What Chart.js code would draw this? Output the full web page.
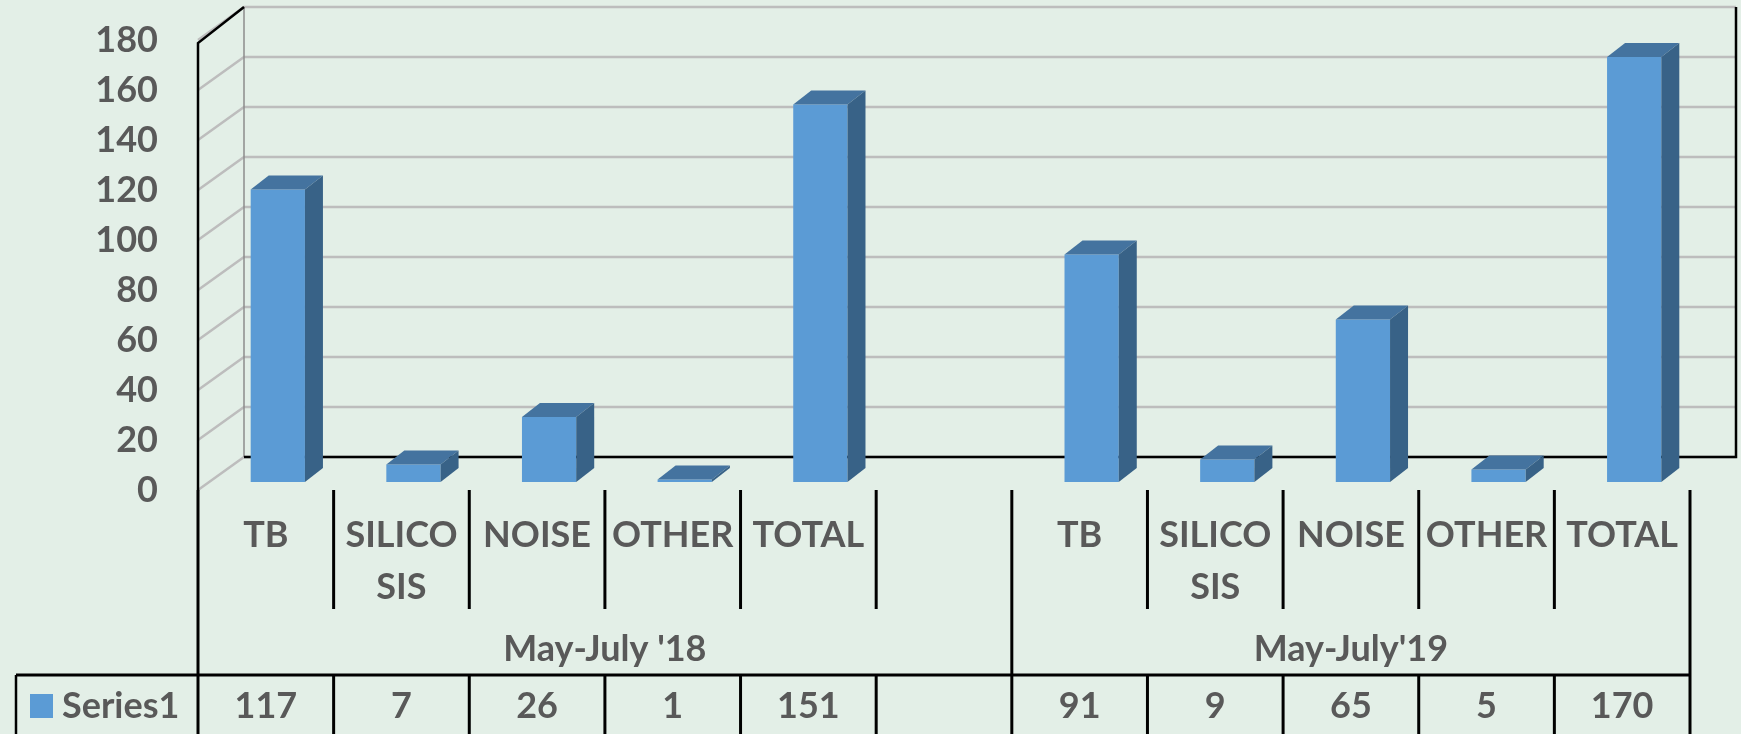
<html>
<head>
<meta charset="utf-8">
<title>Series1 3D columns</title>
<script src="https://cdn.jsdelivr.net/npm/chart.js@4.4.1/dist/chart.umd.min.js"></script>
<style>
	body { margin: 0; background: #E3EFE7; overflow: hidden; }
</style>
</head>
<body>

	<canvas id="canvas" width="1741" height="734"></canvas>

	<script>
		// data
		var categories = ['TB', ['SILICO', 'SIS'], 'NOISE', 'OTHER', 'TOTAL', '', 'TB', ['SILICO', 'SIS'], 'NOISE', 'OTHER', 'TOTAL'];
		var series1 = [117, 7, 26, 1, 151, null, 91, 9, 65, 5, 170];
		var seriesName = 'Series1';
		var groupLabels = ["May-July '18", "May-July'19"];
		var groupSizes = [6, 5];
		var yMin = 0, yMax = 180, yStep = 20;

		var bg = '#E3EFE7';
		var textColor = '#595959';
		var font = 'bold 36px Lato';

		// fake 3d geometry
		var depthX = 46, depthY = 33;
		var shiftX = 12, shiftY = 8;
		var sideX = 18, sideY = 14;

		function line(ctx, pts) {
			ctx.beginPath();
			ctx.moveTo(pts[0][0], pts[0][1]);
			for (var i = 1; i < pts.length; i++) ctx.lineTo(pts[i][0], pts[i][1]);
			ctx.stroke();
		}
		function poly(ctx, pts, color) {
			ctx.beginPath();
			ctx.moveTo(pts[0][0], pts[0][1]);
			for (var i = 1; i < pts.length; i++) ctx.lineTo(pts[i][0], pts[i][1]);
			ctx.closePath();
			ctx.fillStyle = color;
			ctx.fill();
		}

		var scene = {
			id: 'scene',
			beforeDraw: function (chart) {
				var ctx = chart.ctx;
				ctx.save();
				ctx.fillStyle = bg;
				ctx.fillRect(0, 0, chart.width, chart.height);
				ctx.restore();
			},
			beforeDatasetsDraw: function (chart) {
				var ctx = chart.ctx, a = chart.chartArea, ys = chart.scales.y;
				ctx.save();
				ctx.lineCap = 'butt';
				// walls gridlines
				for (var v = yMin; v <= yMax; v += yStep) {
					var py = ys.getPixelForValue(v);
					ctx.strokeStyle = '#BDBDBD';
					ctx.lineWidth = 2.5;
					line(ctx, [[a.left, py], [a.left + depthX, py - depthY], [a.right + depthX, py - depthY]]);
				}
				ctx.strokeStyle = '#8C8C8C';
				ctx.lineWidth = 1.5;
				line(ctx, [[a.left + depthX, a.top - depthY], [a.left + depthX, a.bottom - depthY]]);

				ctx.strokeStyle = '#000';
				ctx.lineWidth = 2.5;
				line(ctx, [[a.left, a.bottom], [a.left, a.top + 3], [a.left + depthX, a.top - depthY]]);
				line(ctx, [[a.left + depthX, a.bottom - depthY], [a.right + depthX, a.bottom - depthY], [a.right + depthX, a.top - depthY]]);
				ctx.restore();

				// bars sit a bit back on the floor
				ctx.save();
				ctx.translate(shiftX, -shiftY);
			},
			afterDatasetsDraw: function (chart) {
				var ctx = chart.ctx;
				var meta = chart.getDatasetMeta(0);
				meta.data.forEach(function (bar, i) {
					if (series1[i] == null) return;
					var l = bar.x - bar.width / 2, r = bar.x + bar.width / 2;
					poly(ctx, [[l, bar.y], [l + sideX, bar.y - sideY], [r + sideX, bar.y - sideY], [r, bar.y]], '#44739F');
					poly(ctx, [[r, bar.y], [r + sideX, bar.y - sideY], [r + sideX, bar.base - sideY], [r, bar.base]], '#386287');
				});
				ctx.restore();
			},
			afterDraw: function (chart) {
				var ctx = chart.ctx, a = chart.chartArea, xs = chart.scales.x;
				var half = (xs.getPixelForValue(1) - xs.getPixelForValue(0)) / 2;
				var top = a.bottom, labelBottom = a.bottom + 119, groupBottom = a.bottom + 185, end = chart.height;
				var i;

				ctx.save();
				ctx.strokeStyle = '#000';
				ctx.lineWidth = 3;
				var groupEdges = [0];
				var n = 0;
				for (i = 0; i < groupSizes.length; i++) { n += groupSizes[i]; groupEdges.push(n); }
				for (i = 0; i <= categories.length; i++) {
					var ex = xs.getPixelForValue(i) - half;
					if (groupEdges.indexOf(i) >= 0) {
						line(ctx, [[ex, top], [ex, end]]);
					} else {
						line(ctx, [[ex, top], [ex, labelBottom]]);
						line(ctx, [[ex, groupBottom], [ex, end]]);
					}
				}
				line(ctx, [[16, groupBottom], [xs.getPixelForValue(categories.length - 1) + half, groupBottom]]);
				ctx.lineWidth = 2.5;
				line(ctx, [[16, groupBottom], [16, end]]);

				ctx.font = font;
				ctx.fillStyle = textColor;
				ctx.textAlign = 'center';
				ctx.textBaseline = 'middle';
				// category labels
				categories.forEach(function (c, i) {
					var lines = Array.isArray(c) ? c : [c];
					lines.forEach(function (t, k) {
						ctx.fillText(t, xs.getPixelForValue(i), top + 45 + k * 52);
					});
				});
				// group labels
				var start = 0;
				groupLabels.forEach(function (g, k) {
					var x0 = xs.getPixelForValue(start) - half;
					var x1 = xs.getPixelForValue(start + groupSizes[k] - 1) + half;
					ctx.fillText(g, (x0 + x1) / 2, labelBottom + 40);
					start += groupSizes[k];
				});
				// data table row
				var rowY = groupBottom + 31;
				series1.forEach(function (v, i) {
					if (v == null) return;
					ctx.fillText(String(v), xs.getPixelForValue(i), rowY);
				});
				ctx.fillStyle = '#5B9BD5';
				ctx.fillRect(30, rowY - 12, 23, 24);
				ctx.fillStyle = textColor;
				ctx.textAlign = 'left';
				ctx.fillText(seriesName, 62, rowY);
				ctx.restore();
			}
		};

		var chart = new Chart(document.getElementById('canvas'), {
			type: 'bar',
			data: {
				labels: categories,
				datasets: [{
					label: seriesName,
					data: series1,
					backgroundColor: '#5B9BD5',
					borderWidth: 0,
					barPercentage: 0.5,
					categoryPercentage: 0.8
				}]
			},
			options: {
				responsive: false,
				animation: false,
				layout: { padding: { left: 0, top: 40, right: 51, bottom: 244 } },
				plugins: {
					legend: { display: false },
					tooltip: { enabled: false }
				},
				scales: {
					x: { display: false },
					y: {
						min: yMin,
						max: yMax,
						afterFit: function (s) {
							s.width = 198;
							s.paddingTop = 0;
							s.paddingBottom = 0;
						},
						border: { display: false },
						grid: { display: false, drawTicks: false },
						ticks: {
							stepSize: yStep,
							padding: 40,
							color: textColor,
							font: { family: 'Lato', weight: 'bold', size: 36 }
						}
					}
				}
			},
			plugins: [scene]
		});
	</script>

</body>
</html>
